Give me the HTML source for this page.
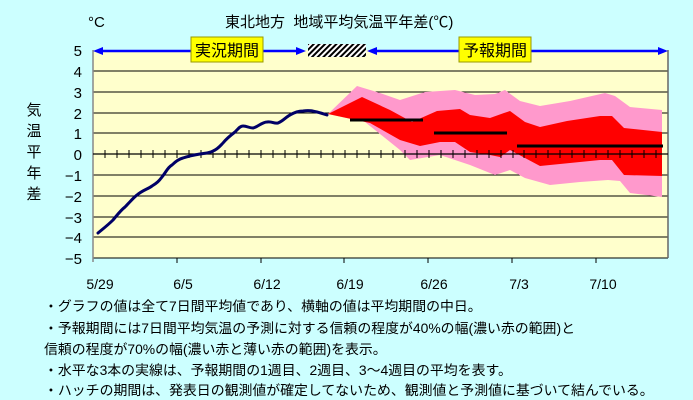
<!DOCTYPE html>
<html><head><meta charset="utf-8"><style>
body{margin:0;background:#ccffff;}
svg{display:block;font-family:"Liberation Sans","Noto Sans CJK JP",sans-serif;}
</style></head><body>
<svg width="693" height="400" viewBox="0 0 693 400">
<defs>
<pattern id="h" width="4" height="4" patternUnits="userSpaceOnUse" patternTransform="rotate(45)">
<rect width="4" height="4" fill="#fff"/><rect width="2" height="4" fill="#000"/></pattern>
</defs>
<rect width="693" height="400" fill="#ccffff"/>
<rect x="93" y="50" width="575" height="208" fill="#ffffcc"/>
<g stroke="#000" stroke-width="1">
<line x1="93" y1="71" x2="668" y2="71"/><line x1="93" y1="92" x2="668" y2="92"/>
<line x1="93" y1="113" x2="668" y2="113"/><line x1="93" y1="133" x2="668" y2="133"/>
<line x1="93" y1="175" x2="668" y2="175"/><line x1="93" y1="196" x2="668" y2="196"/>
<line x1="93" y1="217" x2="668" y2="217"/><line x1="93" y1="237" x2="668" y2="237"/>
<line x1="93" y1="258" x2="668" y2="258"/>
</g>
<line x1="93" y1="50" x2="93" y2="262" stroke="#888" stroke-width="1.5"/>
<line x1="668" y1="50" x2="668" y2="258" stroke="#666" stroke-width="1.5"/>
<polygon fill="#ff99cc" points="328,114 357,86 380,93 400,100 425,92 455,90 475,95 495,94 505,90 520,101 540,106 570,101 605,93 615,96 630,107 662,110 662,197 630,193 620,181 608,180 580,182 550,185 525,178 510,170 495,175 470,165 440,155 410,160 400,150 365,122"/>
<polygon fill="#ff0000" points="328,114 362,97 390,110 412,122 437,111 460,109 470,115 490,118 504,113 510,111 525,122 540,127 567,121 600,116 612,116 624,128 662,132 662,176 624,175 612,160 600,160 570,163 540,166 510,150 500,157 490,155 470,152 455,142 440,142 420,146 400,140 370,123"/>
<line x1="93" y1="154" x2="668" y2="154" stroke="#000" stroke-width="1.2"/>
<path fill="none" stroke="#000" stroke-width="1" d="M105,150v8M117,150v8M129,150v8M141,150v8M153,150v8M165,150v8M177,150v8M189,150v8M201,150v8M213,150v8M225,150v8M237,150v8M249,150v8M261,150v8M273,150v8M285,150v8M297,150v8M309,150v8M321,150v8M333,150v8M345,150v8M357,150v8M369,150v8M381,150v8M393,150v8M405,150v8M417,150v8M429,150v8M441,150v8M453,150v8M465,150v8M477,150v8M489,150v8M501,150v8M513,150v8M524,150v8M536,150v8M548,150v8M560,150v8M572,150v8M584,150v8M596,150v8M608,150v8M620,150v8M632,150v8M644,150v8M656,150v8M177,258v5M261,258v5M344,258v5M428,258v5M512,258v5M596,258v5"/>
<g stroke="#000" stroke-width="3">
<line x1="350" y1="120" x2="423" y2="120"/><line x1="434" y1="133" x2="507" y2="133"/><line x1="517" y1="146" x2="663" y2="146"/>
</g>
<path fill="none" stroke="#000066" stroke-width="3" stroke-linejoin="round" stroke-linecap="round" d="M98,233 C104,228 108,225 113,220 C118,214 121,210 125,207 C130,202 133,198 137,195 C143,190 148,189 152,186 C157,183 159,181 162,177 C166,172 168,167 172,165 C176,161 179,159 183,158 C189,156 194,155 200,154 C206,153 210,153 213,151 C218,149 220,146 223,143 C227,138 231,135 235,132 C238,129 240,126 243,126 C247,126 249,128 253,128 C258,127 262,122 267,122 C272,121 274,124 278,123 C283,121 286,117 290,115 C295,112 299,111 303,111 C309,110 313,111 317,112 C321,113 324,114 327,115"/>
<g stroke="#0000ff" stroke-width="2.5" fill="#0000ff">
<line x1="100" y1="51" x2="300" y2="51"/><line x1="373" y1="51" x2="662" y2="51"/>
</g>
<g fill="#0000ff">
<polygon points="93,51 103,47 103,55"/><polygon points="306,51 296,47 296,55"/>
<polygon points="367,51 377,47 377,55"/><polygon points="668,51 658,47 658,55"/>
</g>
<rect x="308" y="44" width="58" height="13" fill="url(#h)"/>
<rect x="191" y="37" width="72" height="25" fill="#ffff00" stroke="#999900" stroke-width="1"/>
<text x="227" y="56" font-size="16" text-anchor="middle">実況期間</text>
<rect x="459" y="37" width="72" height="25" fill="#ffff00" stroke="#999900" stroke-width="1"/>
<text x="495" y="56" font-size="16" text-anchor="middle">予報期間</text>
<text x="88" y="27" font-size="15">°C</text>
<text x="225" y="27" font-size="15">東北地方&#160;&#160;地域平均気温平年差(℃)</text>
<g font-size="15" text-anchor="end">
<text x="82" y="56">5</text><text x="82" y="77">4</text><text x="82" y="98">3</text><text x="82" y="119">2</text><text x="82" y="139">1</text><text x="82" y="160">0</text><text x="82" y="181">−1</text><text x="82" y="202">−2</text><text x="82" y="223">−3</text><text x="82" y="243">−4</text><text x="82" y="264">−5</text>
</g>
<g font-size="15" text-anchor="middle">
<text x="34" y="115">気</text><text x="34" y="136">温</text><text x="34" y="157">平</text><text x="34" y="178">年</text><text x="34" y="199">差</text>
</g>
<g font-size="14" text-anchor="middle">
<text x="100" y="289">5/29</text><text x="183" y="289">6/5</text><text x="267" y="289">6/12</text><text x="350" y="289">6/19</text><text x="434" y="289">6/26</text><text x="519" y="289">7/3</text><text x="603" y="289">7/10</text>
</g>
<g font-size="13.9">
<text x="44" y="311">・グラフの値は全て7日間平均値であり、横軸の値は平均期間の中日。</text>
<text x="44" y="333">・予報期間には7日間平均気温の予測に対する信頼の程度が40%の幅(濃い赤の範囲)と</text>
<text x="44" y="354">信頼の程度が70%の幅(濃い赤と薄い赤の範囲)を表示。</text>
<text x="44" y="375">・水平な3本の実線は、予報期間の1週目、2週目、3～4週目の平均を表す。</text>
<text x="44" y="395">・ハッチの期間は、発表日の観測値が確定してないため、観測値と予測値に基づいて結んでいる。</text>
</g>
</svg>
</body></html>
